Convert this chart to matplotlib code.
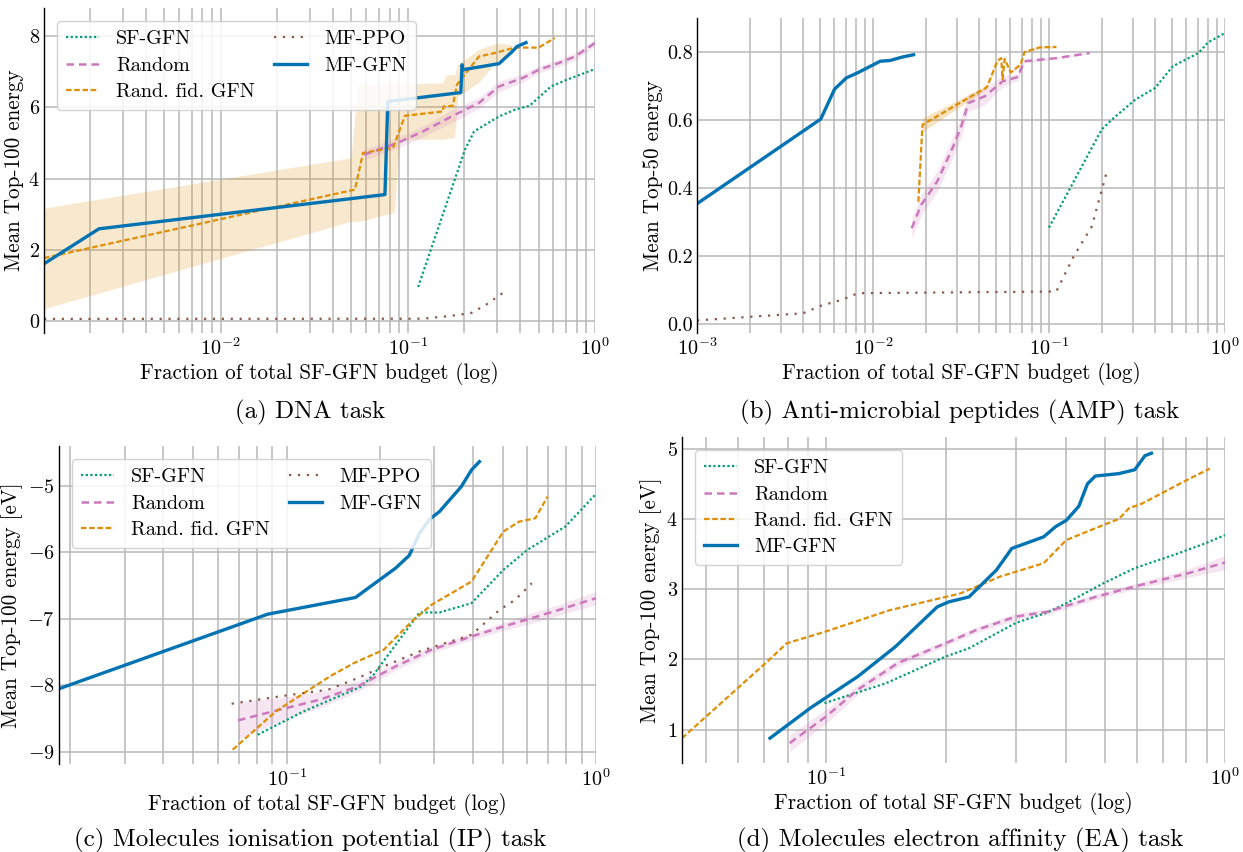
import matplotlib
matplotlib.use("Agg")
import matplotlib.pyplot as plt
import numpy as np

# ---------------- data ----------------
# Panel (a) DNA task
a_sf_x = [0.1136, 0.202, 0.226, 0.307, 0.374, 0.447, 0.582, 0.708, 1.0]
a_sf_y = [0.96, 4.81, 5.32, 5.74, 5.93, 6.04, 6.58, 6.77, 7.07]
a_rand_x = [0.0585, 0.0884, 0.1205, 0.179, 0.24, 0.307, 0.412, 0.501, 0.642, 0.782, 1.0]
a_rand_y = [4.67, 5.0, 5.32, 5.79, 6.12, 6.58, 6.82, 7.05, 7.24, 7.42, 7.80]
a_rand_err = [0.15, 0.15, 0.15, 0.18, 0.15, 0.15, 0.12, 0.1, 0.1, 0.1, 0.1]
a_rfid_x = [0.00114, 0.0522, 0.0577, 0.0834, 0.0966, 0.154, 0.155, 0.174, 0.183, 0.24, 0.292, 0.374, 0.50, 0.61]
a_rfid_y = [1.77, 3.69, 4.72, 4.86, 5.76, 5.88, 6.02, 6.04, 6.63, 7.42, 7.52, 7.67, 7.67, 7.94]
a_rfid_band_x = [0.00114, 0.0497, 0.0540, 0.0577, 0.0850, 0.0900, 0.154, 0.160, 0.178, 0.185, 0.24, 0.30, 0.36]
a_rfid_lo = [0.35, 2.80, 2.80, 2.82, 3.06, 5.10, 5.10, 5.12, 5.15, 6.30, 6.70, 7.30, 7.50]
a_rfid_hi = [3.17, 4.58, 6.60, 6.65, 6.65, 6.65, 6.68, 6.90, 6.92, 7.20, 7.62, 7.80, 7.75]
a_ppo_x = [0.00114, 0.12, 0.17, 0.218, 0.26, 0.342]
a_ppo_y = [0.065, 0.07, 0.15, 0.23, 0.45, 0.89]
a_mf_x = [0.00114, 0.00224, 0.0755, 0.0782, 0.192, 0.195, 0.197, 0.307, 0.36, 0.383, 0.428]
a_mf_y = [1.61, 2.59, 3.55, 6.16, 6.41, 7.19, 7.05, 7.22, 7.55, 7.70, 7.81]

# Panel (b) AMP task
b_sf_x = [0.1, 0.199, 0.226, 0.309, 0.40, 0.505, 0.706, 0.80, 1.0]
b_sf_y = [0.284, 0.572, 0.60, 0.66, 0.694, 0.758, 0.797, 0.828, 0.856]
b_rand_x = [0.0166, 0.0188, 0.0232, 0.0286, 0.0317, 0.0348, 0.0432, 0.0546, 0.0671, 0.0687, 0.0726, 0.11, 0.17]
b_rand_y = [0.282, 0.351, 0.42, 0.523, 0.581, 0.65, 0.67, 0.714, 0.727, 0.746, 0.773, 0.782, 0.797]
b_rand_err = [0.03, 0.03, 0.03, 0.03, 0.03, 0.025, 0.025, 0.015, 0.01, 0.01, 0.005, 0.003, 0.003]
b_rfid_x = [0.0181, 0.0191, 0.0444, 0.051, 0.0535, 0.0545, 0.056, 0.0605, 0.0689, 0.0726, 0.089, 0.11]
b_rfid_y = [0.36, 0.586, 0.697, 0.775, 0.782, 0.72, 0.78, 0.74, 0.763, 0.80, 0.814, 0.815]
b_rfid_err = [0.005, 0.02, 0.005, 0.004, 0.004, 0.004, 0.004, 0.004, 0.004, 0.003, 0.003, 0.003]
b_ppo_x = [0.001, 0.004, 0.00505, 0.0067, 0.0082, 0.11, 0.138, 0.175, 0.215]
b_ppo_y = [0.011, 0.032, 0.054, 0.072, 0.091, 0.096, 0.199, 0.287, 0.456]
b_mf_x = [0.001, 0.00505, 0.00605, 0.00706, 0.00826, 0.011, 0.0125, 0.0146, 0.017]
b_mf_y = [0.354, 0.603, 0.691, 0.724, 0.740, 0.773, 0.775, 0.785, 0.792]

# Panel (c) IP task
c_sf_x = [0.0807, 0.1136, 0.175, 0.191, 0.269, 0.312, 0.396, 0.502, 0.60, 0.796, 1.0]
c_sf_y = [-8.74, -8.39, -8.015, -7.84, -6.905, -6.905, -6.765, -6.265, -5.965, -5.615, -5.125]
c_rand_x = [0.0697, 0.095, 0.128, 0.17, 0.225, 0.294, 0.396, 0.502, 0.62, 0.76, 1.0]
c_rand_y = [-8.525, -8.365, -8.215, -8.015, -7.715, -7.465, -7.265, -7.115, -6.99, -6.865, -6.69]
c_rand_err = [0.28, 0.18, 0.12, 0.08, 0.06, 0.05, 0.05, 0.06, 0.08, 0.08, 0.1]
c_rfid_x = [0.067, 0.0923, 0.138, 0.165, 0.206, 0.254, 0.294, 0.396, 0.502, 0.565, 0.637, 0.697]
c_rfid_y = [-8.965, -8.39, -7.865, -7.665, -7.465, -7.04, -6.79, -6.44, -5.69, -5.54, -5.49, -5.165]
c_ppo_x = [0.0665, 0.095, 0.136, 0.17, 0.206, 0.269, 0.396, 0.488, 0.548, 0.62]
c_ppo_y = [-8.275, -8.165, -8.065, -7.89, -7.715, -7.49, -7.24, -6.865, -6.715, -6.465]
c_mf_x = [0.0184, 0.087, 0.167, 0.225, 0.249, 0.269, 0.290, 0.312, 0.367, 0.396, 0.42]
c_mf_y = [-8.05, -6.93, -6.68, -6.24, -6.05, -5.715, -5.505, -5.39, -5.015, -4.765, -4.64]

# Panel (d) EA task
d_sf_x = [0.099, 0.141, 0.199, 0.228, 0.299, 0.359, 0.40, 0.494, 0.594, 0.746, 0.89, 1.0]
d_sf_y = [1.379, 1.66, 2.04, 2.16, 2.52, 2.67, 2.80, 3.08, 3.30, 3.49, 3.65, 3.77]
d_rand_x = [0.081, 0.1, 0.12, 0.151, 0.199, 0.238, 0.299, 0.359, 0.473, 0.594, 0.80, 1.0]
d_rand_y = [0.81, 1.19, 1.57, 1.947, 2.23, 2.42, 2.61, 2.68, 2.89, 3.04, 3.22, 3.38]
d_rand_err = [0.12, 0.1, 0.07, 0.05, 0.04, 0.04, 0.05, 0.04, 0.04, 0.04, 0.06, 0.1]
d_rfid_x = [0.0435, 0.0718, 0.0796, 0.1, 0.144, 0.217, 0.273, 0.351, 0.40, 0.484, 0.542, 0.574, 0.62, 0.80, 0.916]
d_rfid_y = [0.88, 1.99, 2.23, 2.40, 2.70, 2.94, 3.18, 3.37, 3.70, 3.89, 4.0, 4.15, 4.22, 4.55, 4.716]
d_mf_x = [0.0723, 0.0913, 0.12, 0.149, 0.19, 0.203, 0.228, 0.267, 0.292, 0.351, 0.376, 0.40, 0.43, 0.452, 0.473, 0.542, 0.594, 0.63, 0.654]
d_mf_y = [0.88, 1.31, 1.757, 2.18, 2.75, 2.82, 2.89, 3.27, 3.58, 3.745, 3.89, 3.98, 4.18, 4.50, 4.61, 4.645, 4.70, 4.90, 4.935]

labels = ["SF-GFN", "Random", "Rand. fid. GFN", "MF-PPO", "MF-GFN"]
captions = ["(a) DNA task", "(b) Anti-microbial peptides (AMP) task",
            "(c) Molecules ionisation potential (IP) task",
            "(d) Molecules electron affinity (EA) task"]
ylabels = ["Mean Top-100 energy", "Mean Top-50 energy",
           "Mean Top-100 energy [eV]", "Mean Top-100 energy [eV]"]
xlabel = "Fraction of total SF-GFN budget (log)"

# ---------------- style ----------------
plt.rcParams["font.family"] = ["cmr10", "DejaVu Serif"]
plt.rcParams["mathtext.fontset"] = "cm"
plt.rcParams["axes.formatter.use_mathtext"] = True
plt.rcParams["axes.unicode_minus"] = True

C_SF = "#029e73"
C_RAND = "#cc78bc"
C_RFID = "#de8f05"
C_PPO = "#8c564b"
C_MF = "#0173b2"
GRID = "#b8b8b8"
FS = 14.5
LFS = 15.2

st = {
    "sf": dict(color=C_SF, lw=1.6, ls=(0, (1, 1.1))),
    "rand": dict(color=C_RAND, lw=1.8, ls=(0, (3, 2))),
    "rfid": dict(color=C_RFID, lw=1.6, ls=(0, (2.5, 1.2))),
    "ppo": dict(color=C_PPO, lw=1.6, ls=(0, (1, 3))),
    "mf": dict(color=C_MF, lw=2.4, ls="-"),
}

fig = plt.figure(figsize=(12.43, 8.52), dpi=100)
W, H = 1243, 852


def make_ax(l, t, r, b):
    return fig.add_axes([l / W, 1 - b / H, (r - l) / W, (b - t) / H])


axA = make_ax(44, 8, 595, 333)
axB = make_ax(697, 18, 1225, 333)
axC = make_ax(59, 446, 596, 764)
axD = make_ax(682, 437, 1225, 763)


def style(ax, ylabel):
    ax.set_xscale("log")
    ax.grid(True, which="major", color=GRID, lw=1.1, zorder=0)
    ax.grid(True, which="minor", axis="x", color=GRID, lw=1.1, zorder=0)
    for s in ["top", "right", "bottom"]:
        ax.spines[s].set_visible(False)
    ax.spines["left"].set_color("black")
    ax.spines["left"].set_linewidth(1.0)
    ax.tick_params(which="both", length=0, labelsize=FS, pad=3)
    ax.set_xlabel(xlabel, fontsize=LFS, labelpad=2)
    ax.set_ylabel(ylabel, fontsize=LFS, labelpad=3)
    ax.set_axisbelow(True)


def band(ax, x, y, e, color, alpha=0.18):
    y = np.asarray(y)
    e = np.asarray(e)
    ax.fill_between(x, y - e, y + e, color=color, alpha=alpha, lw=0)


leg_kw = dict(loc="upper left", fontsize=FS, handlelength=1.65,
              borderaxespad=0.5, borderpad=0.45, framealpha=0.85,
              edgecolor="#cccccc", bbox_to_anchor=(0.005, 0.99),
              labelspacing=0.4, handletextpad=0.85)

# (a)
ax = axA
ax.fill_between(a_rfid_band_x, a_rfid_lo, a_rfid_hi, color=C_RFID, alpha=0.2, lw=0)
band(ax, a_rand_x, a_rand_y, a_rand_err, C_RAND)
ax.plot(a_sf_x, a_sf_y, label=labels[0], **st["sf"])
ax.plot(a_rand_x, a_rand_y, label=labels[1], **st["rand"])
ax.plot(a_rfid_x, a_rfid_y, label=labels[2], **st["rfid"])
ax.plot(a_ppo_x, a_ppo_y, label=labels[3], **st["ppo"])
ax.plot(a_mf_x, a_mf_y, label=labels[4], **st["mf"])
style(ax, ylabels[0])
ax.set_xlim(0.00114, 1.0)
ax.set_ylim(-0.33, 8.78)
ax.set_yticks([0, 2, 4, 6, 8])
ax.legend(ncol=2, columnspacing=0.95, **leg_kw)

# (b)
ax = axB
band(ax, b_rand_x, b_rand_y, b_rand_err, C_RAND)
band(ax, b_rfid_x, b_rfid_y, b_rfid_err, C_RFID, alpha=0.25)
ax.plot(b_sf_x, b_sf_y, **st["sf"])
ax.plot(b_rand_x, b_rand_y, **st["rand"])
ax.plot(b_rfid_x, b_rfid_y, **st["rfid"])
ax.plot(b_ppo_x, b_ppo_y, **st["ppo"])
ax.plot(b_mf_x, b_mf_y, **st["mf"])
style(ax, ylabels[1])
ax.set_xlim(0.001, 1.0)
ax.set_ylim(-0.026, 0.90)
ax.set_yticks([0.0, 0.2, 0.4, 0.6, 0.8])
ax.yaxis.set_major_formatter(matplotlib.ticker.FormatStrFormatter("%.1f"))

# (c)
ax = axC
band(ax, c_rand_x, c_rand_y, c_rand_err, C_RAND)
ax.plot(c_sf_x, c_sf_y, label=labels[0], **st["sf"])
ax.plot(c_rand_x, c_rand_y, label=labels[1], **st["rand"])
ax.plot(c_rfid_x, c_rfid_y, label=labels[2], **st["rfid"])
ax.plot(c_ppo_x, c_ppo_y, label=labels[3], **st["ppo"])
ax.plot(c_mf_x, c_mf_y, label=labels[4], **st["mf"])
style(ax, ylabels[2])
ax.set_xlim(0.0184, 1.0)
ax.set_ylim(-9.18, -4.405)
ax.set_yticks([-9, -8, -7, -6, -5])
ax.legend(ncol=2, columnspacing=0.95, **leg_kw)

# (d)
ax = axD
band(ax, d_rand_x, d_rand_y, d_rand_err, C_RAND)
ax.plot(d_sf_x, d_sf_y, label=labels[0], **st["sf"])
ax.plot(d_rand_x, d_rand_y, label=labels[1], **st["rand"])
ax.plot(d_rfid_x, d_rfid_y, label=labels[2], **st["rfid"])
ax.plot(d_mf_x, d_mf_y, label=labels[4], **st["mf"])
style(ax, ylabels[3])
ax.set_xlim(0.0435, 1.0)
ax.set_ylim(0.527, 5.166)
ax.set_yticks([1, 2, 3, 4, 5])
ax.legend(ncol=1, **leg_kw)

# captions
CFS = 18
fig.text(310 / W, 1 - 412 / H, captions[0], ha="center", va="center", fontsize=CFS)
fig.text(960 / W, 1 - 412 / H, captions[1], ha="center", va="center", fontsize=CFS)
fig.text(310 / W, 1 - 840 / H, captions[2], ha="center", va="center", fontsize=CFS)
fig.text(960 / W, 1 - 840 / H, captions[3], ha="center", va="center", fontsize=CFS)

fig.savefig("out.png", dpi=100)
